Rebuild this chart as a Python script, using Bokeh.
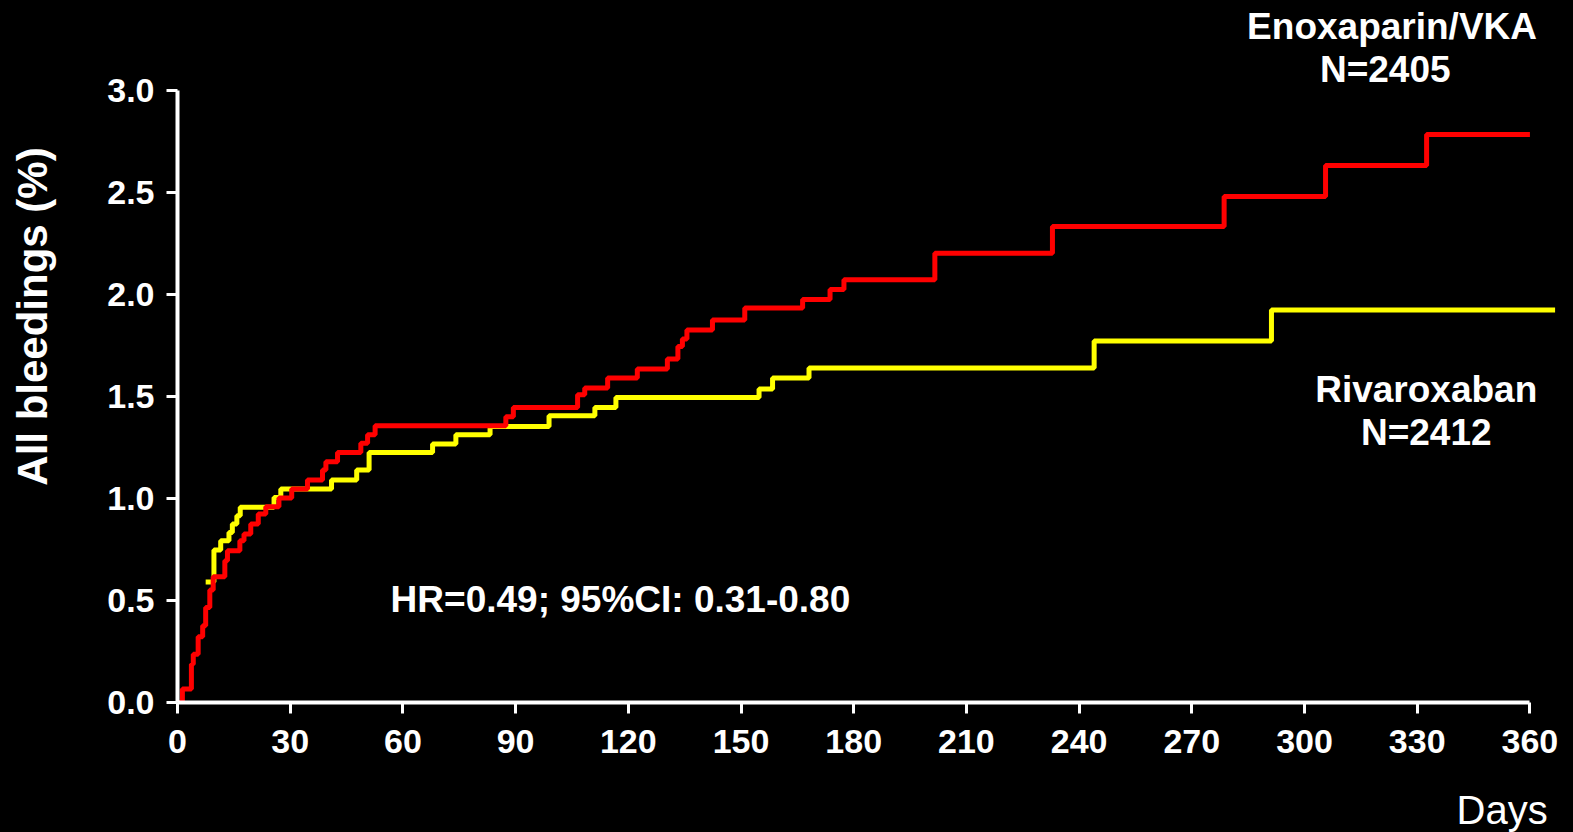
import math
from bokeh.plotting import figure
from bokeh.models import Range1d, Label, FixedTicker
from bokeh.embed import file_html
from bokeh.resources import INLINE

# ---- data ----
red_days = [0, 1.3, 3.7, 4.2, 5.5, 6.7, 7.5, 8.6, 9.5, 12.6, 13.3, 16.6, 17.7, 19.5,
            21.5, 23.5, 27.0, 30.4, 34.6, 38.6, 39.5, 42.6, 48.8, 50.6, 52.6, 87.4,
            89.4, 106.5, 108.4, 114.5, 122.4, 130.4, 133.2, 134.4, 135.6, 142.4,
            151.0, 166.4, 173.7, 177.4, 201.6, 232.9, 278.6, 305.6, 332.5, 360]
red_pct = [0, 0.066, 0.188, 0.237, 0.322, 0.376, 0.466, 0.551, 0.616, 0.695, 0.744,
           0.793, 0.826, 0.875, 0.924, 0.959, 1.002, 1.046, 1.09, 1.139, 1.18, 1.225,
           1.27, 1.312, 1.356, 1.40, 1.446, 1.508, 1.541, 1.59, 1.634, 1.683, 1.744,
           1.781, 1.825, 1.874, 1.933, 1.975, 2.024, 2.071, 2.201, 2.332, 2.48,
           2.631, 2.783, 2.783]

yellow_days = [7.5, 9.7, 11.5, 13.7, 14.6, 15.8, 16.7, 25.7, 27.5, 41.0, 47.7, 51.0,
               67.9, 74.1, 83.2, 98.9, 111.1, 116.7, 154.8, 158.4, 168.1, 244.0,
               291.2, 366.7]
yellow_pct = [0.59, 0.747, 0.793, 0.833, 0.875, 0.915, 0.957, 1.005, 1.046, 1.09,
              1.139, 1.225, 1.267, 1.312, 1.353, 1.405, 1.446, 1.495, 1.536, 1.59,
              1.639, 1.771, 1.923, 1.923]

x_ticks = [0, 30, 60, 90, 120, 150, 180, 210, 240, 270, 300, 330, 360]
y_ticks = [0.0, 0.5, 1.0, 1.5, 2.0, 2.5, 3.0]
y_tick_labels = {0.0: "0.0", 0.5: "0.5", 1.0: "1.0", 1.5: "1.5", 2.0: "2.0", 2.5: "2.5", 3.0: "3.0"}

FONT = "Liberation Sans"
BG = "black"

p = figure(width=1573, height=832, output_backend="svg", toolbar_location=None,
           x_range=Range1d(0, 371.6), y_range=Range1d(0, 3.44),
           min_border_left=177, min_border_right=0, min_border_top=0, min_border_bottom=130,
           background_fill_color=BG, border_fill_color=BG, outline_line_color=None)
p.grid.visible = False

p.step(yellow_days, yellow_pct, mode="after", line_color="#FFFF00", line_width=5)
p.step(red_days, red_pct, mode="after", line_color="#FF0000", line_width=5)

for ax in (p.xaxis[0], p.yaxis[0]):
    ax.axis_line_color = "white"
    ax.axis_line_width = 4
    ax.major_tick_line_color = "white"
    ax.major_tick_line_width = 3
    ax.major_tick_out = 11
    ax.major_tick_in = 0
    ax.minor_tick_line_color = None
    ax.major_label_text_color = "white"
    ax.major_label_text_font = FONT
    ax.major_label_text_font_style = "bold"
    ax.major_label_text_font_size = "34px"

p.xaxis.ticker = FixedTicker(ticks=x_ticks)
p.xaxis.bounds = (0, 360)
p.xaxis.major_label_standoff = 16
p.yaxis.ticker = FixedTicker(ticks=y_ticks)
p.yaxis.major_label_overrides = y_tick_labels
p.yaxis.bounds = (0, 3)
p.yaxis.major_label_standoff = 12


def lab(x, y, text, size, bold=True, angle=0.0, place="center"):
    p.add_layout(Label(x=x, y=y, text=text, text_color="white", text_font=FONT,
                       text_font_size=size, text_font_style="bold" if bold else "normal",
                       text_align="center", text_baseline="middle", angle=angle), place)


lab(323.3, 3.3126, "Enoxaparin/VKA", "37px")
lab(321.5, 3.1019, "N=2405", "37px")
lab(332.4, 1.5353, "Rivaroxaban", "37px")
lab(332.4, 1.3231, "N=2412", "37px")
lab(117.9, 0.5062, "HR=0.49; 95%CI: 0.31-0.80", "37px")
lab(352.6, -0.5258, "Days", "40px", bold=False, place="below")
lab(-38.5, 1.8915, "All bleedings (%)", "42px", angle=math.pi / 2, place="left")

html = file_html(p, INLINE)
html = html.replace("</head>", "<style>html,body{margin:0;padding:0;background:#000;}</style></head>", 1)
open("out.html", "w").write(html)
